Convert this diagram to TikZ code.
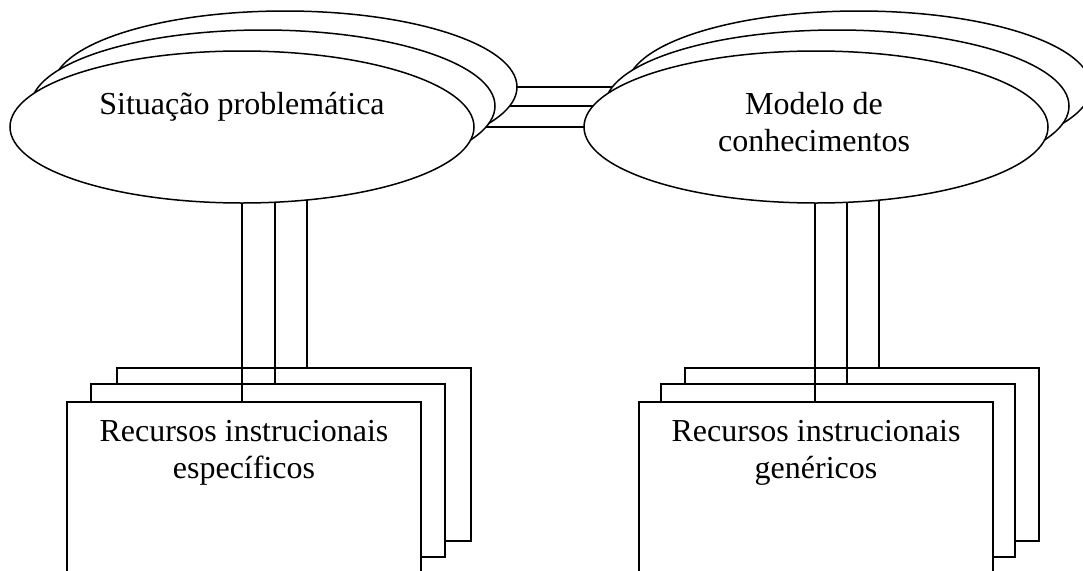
\documentclass[tikz,border=0pt]{standalone}
\usepackage{fontspec}
\setmainfont{Liberation Serif}
\usetikzlibrary{shapes.geometric}
\begin{document}
\begin{tikzpicture}[x=1pt,y=-1pt,
  oval/.style={ellipse, draw, fill=white, line width=1.5pt,
    minimum width=464pt, minimum height=152pt, inner sep=0pt, outer sep=0pt},
  sheet/.style={rectangle, draw, fill=white, line width=1.5pt,
    minimum width=354pt, minimum height=173pt, inner sep=0pt, outer sep=0pt},
  link/.style={line width=1.4pt},
  txt/.style={inner sep=0pt, align=center, font=\fontsize{32pt}{37pt}\selectfont}]
\useasboundingbox (0,0) rectangle (1083,570);
\clip (0,0) rectangle (1083,570);

% stacked sheets, back to front
\node[sheet] (lsb) at (294,454.5) {};
\node[sheet] (lsm) at (268,470.5) {};
\node[sheet] (lsf) at (244,488.5) {};
\node[sheet] (rsb) at (862,454.5) {};
\node[sheet] (rsm) at (838,470.5) {};
\node[sheet] (rsf) at (816,488.5) {};

% anchor points for the vertical links
\coordinate (la1) at (242,127);
\coordinate (la2) at (275,127);
\coordinate (la3) at (307,127);
\coordinate (ra1) at (815,127);
\coordinate (ra2) at (847,127);
\coordinate (ra3) at (879,127);

% vertical links from the ovals down to the sheets
\draw[link] (la1) -- (la1 |- lsf.north);
\draw[link] (la2) -- (la2 |- lsm.north);
\draw[link] (la3) -- (la3 |- lsb.north);
\draw[link] (ra1) -- (ra1 |- rsf.north);
\draw[link] (ra2) -- (ra2 |- rsm.north);
\draw[link] (ra3) -- (ra3 |- rsb.north);

% positions of the stacked ovals
\coordinate (plb) at (285,87);
\coordinate (plm) at (263,106);
\coordinate (plf) at (242,127);
\coordinate (prb) at (859,87);
\coordinate (prm) at (837,106);
\coordinate (prf) at (816,127);

% horizontal links between the two oval stacks
\draw[link] (plb) -- (prb);
\draw[link] (plm) -- (prm);
\draw[link] (plf) -- (prf);

% stacked ovals, back to front
\node[oval] (lob) at (plb) {};
\node[oval] (lom) at (plm) {};
\node[oval] (lof) at (plf) {};
\node[oval] (rob) at (prb) {};
\node[oval] (rom) at (prm) {};
\node[oval] (rof) at (prf) {};

% texts (base anchor sits on the last line)
\node[txt, anchor=base] (tl) at (242,114) {Situação problemática};
\node[txt, anchor=base] (tr) at (814,151) {Modelo de\\conhecimentos};
\node[txt, anchor=base] (sl) at (244,478) {Recursos instrucionais\\específicos};
\node[txt, anchor=base] (sr) at (816,478) {Recursos instrucionais\\genéricos};
\end{tikzpicture}
\end{document}
